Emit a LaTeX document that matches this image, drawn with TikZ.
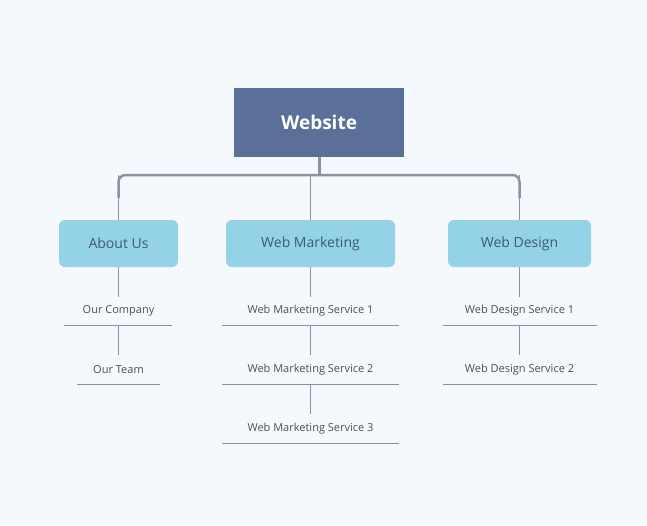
\documentclass[tikz,border=0pt]{standalone}
\usepackage{fontspec}
\setmainfont{Open Sans}
\begin{document}
\begin{tikzpicture}[x=1pt,y=-1pt,
  rootbox/.style={fill=rootc,minimum width=170pt,minimum height=69pt,text=white,font=\fontsize{19}{22}\selectfont\bfseries,inner sep=0},
  childbox/.style={fill=childc,rounded corners=6pt,minimum height=47pt,text=childt,font=\fontsize{14}{17}\selectfont,inner sep=0},
  leaf/.style={text=leaft,font=\fontsize{11}{13}\selectfont,inner sep=0,minimum height=28pt,anchor=center},
  uline/.style={draw=linec,line width=1pt},
  conn/.style={draw=linec,line width=1pt}]
\definecolor{bg}{HTML}{F5F9FD}
\definecolor{rootc}{HTML}{5B7099}
\definecolor{childc}{HTML}{94D2E7}
\definecolor{childt}{HTML}{3D5B72}
\definecolor{leaft}{HTML}{4A4F58}
\definecolor{linec}{HTML}{8E929E}
\fill[bg] (0,0) rectangle (647,525);
\node[rootbox] (root) at (319,122.5) {Website};
\node[childbox,minimum width=119pt] (a) at (118.5,243.5) {About Us};
\node[childbox,minimum width=169pt] (m) at (310.5,243.5) {Web Marketing};
\node[childbox,minimum width=143pt] (d) at (519.5,243.5) {Web Design};
\coordinate (bus) at (319,175);
\draw[draw=linec,line width=3pt] (root.south) -- (bus);
\draw[draw=linec,line width=2.5pt,rounded corners=7pt] (118.5,198) -- (118.5,175) -- (519.5,175) -- (519.5,198);
\draw[conn] (118.5,175) -- (a.north);
\draw[conn] (310.5,175) -- (m.north);
\draw[conn] (519.5,175) -- (d.north);
% leaves
\node[leaf] (a1) at (118.5,311) {Our Company};
\node[leaf] (a2) at (118.5,369.5) {Our Team};
\node[leaf] (m1) at (310.5,311) {Web Marketing Service 1};
\node[leaf] (m2) at (310.5,369.5) {Web Marketing Service 2};
\node[leaf] (m3) at (310.5,428.5) {Web Marketing Service 3};
\node[leaf] (d1) at (519.5,311) {Web Design Service 1};
\node[leaf] (d2) at (519.5,369.5) {Web Design Service 2};
\draw[uline] (64,325) -- (172,325);
\draw[uline] (77,384) -- (160,384);
\foreach \y in {325,384,443} \draw[uline] (222,\y) -- (399,\y);
\foreach \y in {325,384} \draw[uline] (443,\y) -- (597,\y);
\draw[conn] (a.south) -- (a1.north);
\draw[conn] (118.5,325) -- (a2.north);
\draw[conn] (m.south) -- (m1.north);
\draw[conn] (310.5,325) -- (m2.north);
\draw[conn] (310.5,384) -- (m3.north);
\draw[conn] (d.south) -- (d1.north);
\draw[conn] (519.5,325) -- (d2.north);
\end{tikzpicture}
\end{document}
